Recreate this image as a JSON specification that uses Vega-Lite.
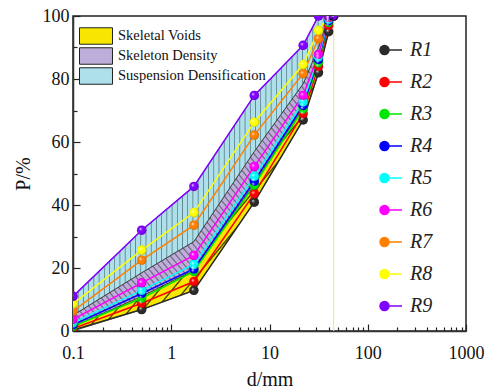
{
  "$schema": "https://vega.github.io/schema/vega-lite/v6.json",
  "width": 393,
  "height": 315,
  "autosize": {"type": "none"},
  "padding": {"left": 73, "top": 16, "right": 20, "bottom": 58},
  "background": "white",
  "config": {
    "font": "Liberation Serif",
    "view": {"stroke": "#222", "strokeWidth": 1.5}
  },
  "datasets": {
    "series": [
      {"s":"R1","d":0.1,"p":0.3},{"s":"R1","d":0.5,"p":6.8},{"s":"R1","d":1.7,"p":12.9},{"s":"R1","d":7,"p":40.9},{"s":"R1","d":22,"p":67},{"s":"R1","d":31.5,"p":82},{"s":"R1","d":40,"p":95},{"s":"R1","d":45,"p":100},
      {"s":"R2","d":0.1,"p":0.8},{"s":"R2","d":0.5,"p":8.8},{"s":"R2","d":1.7,"p":15.7},{"s":"R2","d":7,"p":43.6},{"s":"R2","d":22,"p":69},{"s":"R2","d":31.5,"p":84},{"s":"R2","d":40,"p":97},{"s":"R2","d":45,"p":100},
      {"s":"R3","d":0.1,"p":1.5},{"s":"R3","d":0.5,"p":10.4},{"s":"R3","d":1.7,"p":18.9},{"s":"R3","d":7,"p":46.3},{"s":"R3","d":22,"p":70.5},{"s":"R3","d":31.5,"p":85.2},{"s":"R3","d":40,"p":98},{"s":"R3","d":45,"p":100},
      {"s":"R4","d":0.1,"p":2},{"s":"R4","d":0.5,"p":11.9},{"s":"R4","d":1.7,"p":19.7},{"s":"R4","d":7,"p":47.6},{"s":"R4","d":22,"p":71.6},{"s":"R4","d":31.5,"p":86.2},{"s":"R4","d":40,"p":98.5},{"s":"R4","d":45,"p":100},
      {"s":"R5","d":0.1,"p":2.6},{"s":"R5","d":0.5,"p":12.9},{"s":"R5","d":1.7,"p":21.1},{"s":"R5","d":7,"p":49.1},{"s":"R5","d":22,"p":72.7},{"s":"R5","d":31.5,"p":87},{"s":"R5","d":40,"p":99},{"s":"R5","d":45,"p":100},
      {"s":"R6","d":0.1,"p":3.7},{"s":"R6","d":0.5,"p":15.3},{"s":"R6","d":1.7,"p":24},{"s":"R6","d":7,"p":52.2},{"s":"R6","d":22,"p":74.8},{"s":"R6","d":31.5,"p":87.8},{"s":"R6","d":40,"p":99.5},{"s":"R6","d":45,"p":100},
      {"s":"R7","d":0.1,"p":6.3},{"s":"R7","d":0.5,"p":22.5},{"s":"R7","d":1.7,"p":33.6},{"s":"R7","d":7,"p":62.2},{"s":"R7","d":22,"p":81.7},{"s":"R7","d":31.5,"p":92.8},{"s":"R7","d":40,"p":100},{"s":"R7","d":45,"p":100},
      {"s":"R8","d":0.1,"p":8.6},{"s":"R8","d":0.5,"p":25.7},{"s":"R8","d":1.7,"p":37.6},{"s":"R8","d":7,"p":66.3},{"s":"R8","d":22,"p":84.6},{"s":"R8","d":31.5,"p":95.4},{"s":"R8","d":40,"p":100},{"s":"R8","d":45,"p":100},
      {"s":"R9","d":0.1,"p":11},{"s":"R9","d":0.5,"p":32},{"s":"R9","d":1.7,"p":45.9},{"s":"R9","d":7,"p":74.8},{"s":"R9","d":22,"p":90.7},{"s":"R9","d":31.5,"p":100},{"s":"R9","d":40,"p":100},{"s":"R9","d":45,"p":100}
    ],
    "bands": [
      {"band":"Skeletal Voids","d":0.1,"lo":0,"hi":1.5},{"band":"Skeletal Voids","d":0.5,"lo":6.8,"hi":11},{"band":"Skeletal Voids","d":1.7,"lo":12.9,"hi":19.3},{"band":"Skeletal Voids","d":7,"lo":40.9,"hi":46.8},{"band":"Skeletal Voids","d":22,"lo":67,"hi":71},{"band":"Skeletal Voids","d":31.5,"lo":82,"hi":85.5},{"band":"Skeletal Voids","d":40,"lo":95,"hi":98},{"band":"Skeletal Voids","d":45,"lo":100,"hi":100},
      {"band":"Skeleton Density","d":0.1,"lo":1.5,"hi":5},{"band":"Skeleton Density","d":0.5,"lo":11,"hi":18.5},{"band":"Skeleton Density","d":1.7,"lo":19.3,"hi":28.4},{"band":"Skeleton Density","d":7,"lo":46.8,"hi":57},{"band":"Skeleton Density","d":22,"lo":71,"hi":78.5},{"band":"Skeleton Density","d":31.5,"lo":85.5,"hi":90},{"band":"Skeleton Density","d":40,"lo":98,"hi":100},{"band":"Skeleton Density","d":45,"lo":100,"hi":100},
      {"band":"Suspension Densification","d":0.1,"lo":5,"hi":11},{"band":"Suspension Densification","d":0.5,"lo":18.5,"hi":32},{"band":"Suspension Densification","d":1.7,"lo":28.4,"hi":45.9},{"band":"Suspension Densification","d":7,"lo":57,"hi":74.8},{"band":"Suspension Densification","d":22,"lo":78.5,"hi":90.7},{"band":"Suspension Densification","d":31.5,"lo":90,"hi":100},{"band":"Suspension Densification","d":40,"lo":100,"hi":100},{"band":"Suspension Densification","d":45,"lo":100,"hi":100}
    ]
  },
  "encoding": {
    "x": {
      "field": "d", "type": "quantitative",
      "scale": {"type": "log", "domain": [0.1, 1000], "nice": false},
      "axis": {
        "title": "d/mm", "titleFontSize": 20, "titleFontWeight": "normal", "titleColor": "#111", "titlePadding": 4,
        "labelFontSize": 18, "labelColor": "#111", "labelFlush": false, "labelOverlap": false, "labelPadding": 20,
        "values": [0.1,0.2,0.3,0.4,0.5,0.6,0.7,0.8,0.9,1,2,3,4,5,6,7,8,9,10,20,30,40,50,60,70,80,90,100,200,300,400,500,600,700,800,900,1000],
        "labelExpr": "indexof([0.1,1,10,100,1000], datum.value) >= 0 ? '' + datum.value : ''",
        "tickSize": {"condition": {"test": "indexof([0.1,1,10,100,1000], datum.value) >= 0", "value": -7}, "value": -4},
        "tickColor": "#222", "tickWidth": 1.2, "domainColor": "#333", "domainWidth": 1.5, "grid": false
      }
    },
    "y": {
      "field": "p", "type": "quantitative",
      "scale": {"domain": [0, 100], "nice": false},
      "axis": {
        "title": "P/%", "titleFontSize": 20, "titleFontWeight": "normal", "titleColor": "#111", "titlePadding": 9,
        "labelFontSize": 18, "labelColor": "#111", "labelPadding": 11, "labelFlush": false, "labelOverlap": false,
        "values": [0,10,20,30,40,50,60,70,80,90,100],
        "labelExpr": "datum.value % 20 === 0 ? datum.label : ''",
        "tickSize": {"condition": {"test": "datum.value % 20 === 0", "value": -7}, "value": -4},
        "tickColor": "#222", "tickWidth": 1.2, "domainColor": "#333", "domainWidth": 1.5, "grid": false
      }
    }
  },
  "layer": [
    {
      "data": {"name": "bands"},
      "mark": {"type": "area", "stroke": "#333", "strokeWidth": 0.8, "opacity": 1},
      "encoding": {
        "y": {"field": "lo", "type": "quantitative"},
        "y2": {"field": "hi"},
        "fill": {
          "field": "band", "type": "nominal",
          "scale": {"domain": ["Skeletal Voids", "Skeleton Density", "Suspension Densification"], "range": ["#f7e600", "#bcaed8", "#ade0ea"]},
          "legend": {
            "title": null, "orient": "none", "legendX": 14, "legendY": 11, "padding": 0,
            "symbolType": "M-2,-1H2V1H-2Z", "symbolSize": 272, "symbolStrokeColor": "#222", "symbolStrokeWidth": 1, "symbolOpacity": 1,
            "labelFontSize": 14.5, "labelColor": "#111", "labelOffset": 13, "rowPadding": -3.6, "labelLimit": 300
          }
        }
      }
    },
    {
      "data": {"name": "bands"},
      "transform": [{"filter": "datum.band === 'Suspension Densification'"}],
      "mark": {"type": "area", "strokeWidth": 0,
        "fill": {"gradient": "linear", "x1": 0, "y1": 0, "x2": 1, "y2": 0, "stops": [
          {"offset":0.017,"color":"rgba(0,0,0,0)"},{"offset":0.02,"color":"rgba(45,75,85,0.6)"},{"offset":0.023,"color":"rgba(0,0,0,0)"},
          {"offset":0.037,"color":"rgba(0,0,0,0)"},{"offset":0.04,"color":"rgba(45,75,85,0.6)"},{"offset":0.043,"color":"rgba(0,0,0,0)"},
          {"offset":0.057,"color":"rgba(0,0,0,0)"},{"offset":0.06,"color":"rgba(45,75,85,0.6)"},{"offset":0.063,"color":"rgba(0,0,0,0)"},
          {"offset":0.077,"color":"rgba(0,0,0,0)"},{"offset":0.08,"color":"rgba(45,75,85,0.6)"},{"offset":0.083,"color":"rgba(0,0,0,0)"},
          {"offset":0.097,"color":"rgba(0,0,0,0)"},{"offset":0.1,"color":"rgba(45,75,85,0.6)"},{"offset":0.103,"color":"rgba(0,0,0,0)"},
          {"offset":0.117,"color":"rgba(0,0,0,0)"},{"offset":0.12,"color":"rgba(45,75,85,0.6)"},{"offset":0.123,"color":"rgba(0,0,0,0)"},
          {"offset":0.137,"color":"rgba(0,0,0,0)"},{"offset":0.14,"color":"rgba(45,75,85,0.6)"},{"offset":0.143,"color":"rgba(0,0,0,0)"},
          {"offset":0.157,"color":"rgba(0,0,0,0)"},{"offset":0.16,"color":"rgba(45,75,85,0.6)"},{"offset":0.163,"color":"rgba(0,0,0,0)"},
          {"offset":0.177,"color":"rgba(0,0,0,0)"},{"offset":0.18,"color":"rgba(45,75,85,0.6)"},{"offset":0.183,"color":"rgba(0,0,0,0)"},
          {"offset":0.197,"color":"rgba(0,0,0,0)"},{"offset":0.2,"color":"rgba(45,75,85,0.6)"},{"offset":0.203,"color":"rgba(0,0,0,0)"},
          {"offset":0.217,"color":"rgba(0,0,0,0)"},{"offset":0.22,"color":"rgba(45,75,85,0.6)"},{"offset":0.223,"color":"rgba(0,0,0,0)"},
          {"offset":0.237,"color":"rgba(0,0,0,0)"},{"offset":0.24,"color":"rgba(45,75,85,0.6)"},{"offset":0.243,"color":"rgba(0,0,0,0)"},
          {"offset":0.257,"color":"rgba(0,0,0,0)"},{"offset":0.26,"color":"rgba(45,75,85,0.6)"},{"offset":0.263,"color":"rgba(0,0,0,0)"},
          {"offset":0.277,"color":"rgba(0,0,0,0)"},{"offset":0.28,"color":"rgba(45,75,85,0.6)"},{"offset":0.283,"color":"rgba(0,0,0,0)"},
          {"offset":0.297,"color":"rgba(0,0,0,0)"},{"offset":0.3,"color":"rgba(45,75,85,0.6)"},{"offset":0.303,"color":"rgba(0,0,0,0)"},
          {"offset":0.317,"color":"rgba(0,0,0,0)"},{"offset":0.32,"color":"rgba(45,75,85,0.6)"},{"offset":0.323,"color":"rgba(0,0,0,0)"},
          {"offset":0.337,"color":"rgba(0,0,0,0)"},{"offset":0.34,"color":"rgba(45,75,85,0.6)"},{"offset":0.343,"color":"rgba(0,0,0,0)"},
          {"offset":0.357,"color":"rgba(0,0,0,0)"},{"offset":0.36,"color":"rgba(45,75,85,0.6)"},{"offset":0.363,"color":"rgba(0,0,0,0)"},
          {"offset":0.377,"color":"rgba(0,0,0,0)"},{"offset":0.38,"color":"rgba(45,75,85,0.6)"},{"offset":0.383,"color":"rgba(0,0,0,0)"},
          {"offset":0.397,"color":"rgba(0,0,0,0)"},{"offset":0.4,"color":"rgba(45,75,85,0.6)"},{"offset":0.403,"color":"rgba(0,0,0,0)"},
          {"offset":0.417,"color":"rgba(0,0,0,0)"},{"offset":0.42,"color":"rgba(45,75,85,0.6)"},{"offset":0.423,"color":"rgba(0,0,0,0)"},
          {"offset":0.437,"color":"rgba(0,0,0,0)"},{"offset":0.44,"color":"rgba(45,75,85,0.6)"},{"offset":0.443,"color":"rgba(0,0,0,0)"},
          {"offset":0.457,"color":"rgba(0,0,0,0)"},{"offset":0.46,"color":"rgba(45,75,85,0.6)"},{"offset":0.463,"color":"rgba(0,0,0,0)"},
          {"offset":0.477,"color":"rgba(0,0,0,0)"},{"offset":0.48,"color":"rgba(45,75,85,0.6)"},{"offset":0.483,"color":"rgba(0,0,0,0)"},
          {"offset":0.497,"color":"rgba(0,0,0,0)"},{"offset":0.5,"color":"rgba(45,75,85,0.6)"},{"offset":0.503,"color":"rgba(0,0,0,0)"},
          {"offset":0.517,"color":"rgba(0,0,0,0)"},{"offset":0.52,"color":"rgba(45,75,85,0.6)"},{"offset":0.523,"color":"rgba(0,0,0,0)"},
          {"offset":0.537,"color":"rgba(0,0,0,0)"},{"offset":0.54,"color":"rgba(45,75,85,0.6)"},{"offset":0.543,"color":"rgba(0,0,0,0)"},
          {"offset":0.557,"color":"rgba(0,0,0,0)"},{"offset":0.56,"color":"rgba(45,75,85,0.6)"},{"offset":0.563,"color":"rgba(0,0,0,0)"},
          {"offset":0.577,"color":"rgba(0,0,0,0)"},{"offset":0.58,"color":"rgba(45,75,85,0.6)"},{"offset":0.583,"color":"rgba(0,0,0,0)"},
          {"offset":0.597,"color":"rgba(0,0,0,0)"},{"offset":0.6,"color":"rgba(45,75,85,0.6)"},{"offset":0.603,"color":"rgba(0,0,0,0)"},
          {"offset":0.617,"color":"rgba(0,0,0,0)"},{"offset":0.62,"color":"rgba(45,75,85,0.6)"},{"offset":0.623,"color":"rgba(0,0,0,0)"},
          {"offset":0.637,"color":"rgba(0,0,0,0)"},{"offset":0.64,"color":"rgba(45,75,85,0.6)"},{"offset":0.643,"color":"rgba(0,0,0,0)"},
          {"offset":0.657,"color":"rgba(0,0,0,0)"},{"offset":0.66,"color":"rgba(45,75,85,0.6)"},{"offset":0.663,"color":"rgba(0,0,0,0)"},
          {"offset":0.677,"color":"rgba(0,0,0,0)"},{"offset":0.68,"color":"rgba(45,75,85,0.6)"},{"offset":0.683,"color":"rgba(0,0,0,0)"},
          {"offset":0.697,"color":"rgba(0,0,0,0)"},{"offset":0.7,"color":"rgba(45,75,85,0.6)"},{"offset":0.703,"color":"rgba(0,0,0,0)"},
          {"offset":0.717,"color":"rgba(0,0,0,0)"},{"offset":0.72,"color":"rgba(45,75,85,0.6)"},{"offset":0.723,"color":"rgba(0,0,0,0)"},
          {"offset":0.737,"color":"rgba(0,0,0,0)"},{"offset":0.74,"color":"rgba(45,75,85,0.6)"},{"offset":0.743,"color":"rgba(0,0,0,0)"},
          {"offset":0.757,"color":"rgba(0,0,0,0)"},{"offset":0.76,"color":"rgba(45,75,85,0.6)"},{"offset":0.763,"color":"rgba(0,0,0,0)"},
          {"offset":0.777,"color":"rgba(0,0,0,0)"},{"offset":0.78,"color":"rgba(45,75,85,0.6)"},{"offset":0.783,"color":"rgba(0,0,0,0)"},
          {"offset":0.797,"color":"rgba(0,0,0,0)"},{"offset":0.8,"color":"rgba(45,75,85,0.6)"},{"offset":0.803,"color":"rgba(0,0,0,0)"},
          {"offset":0.817,"color":"rgba(0,0,0,0)"},{"offset":0.82,"color":"rgba(45,75,85,0.6)"},{"offset":0.823,"color":"rgba(0,0,0,0)"},
          {"offset":0.837,"color":"rgba(0,0,0,0)"},{"offset":0.84,"color":"rgba(45,75,85,0.6)"},{"offset":0.843,"color":"rgba(0,0,0,0)"},
          {"offset":0.857,"color":"rgba(0,0,0,0)"},{"offset":0.86,"color":"rgba(45,75,85,0.6)"},{"offset":0.863,"color":"rgba(0,0,0,0)"},
          {"offset":0.877,"color":"rgba(0,0,0,0)"},{"offset":0.88,"color":"rgba(45,75,85,0.6)"},{"offset":0.883,"color":"rgba(0,0,0,0)"},
          {"offset":0.897,"color":"rgba(0,0,0,0)"},{"offset":0.9,"color":"rgba(45,75,85,0.6)"},{"offset":0.903,"color":"rgba(0,0,0,0)"},
          {"offset":0.917,"color":"rgba(0,0,0,0)"},{"offset":0.92,"color":"rgba(45,75,85,0.6)"},{"offset":0.923,"color":"rgba(0,0,0,0)"},
          {"offset":0.937,"color":"rgba(0,0,0,0)"},{"offset":0.94,"color":"rgba(45,75,85,0.6)"},{"offset":0.943,"color":"rgba(0,0,0,0)"},
          {"offset":0.957,"color":"rgba(0,0,0,0)"},{"offset":0.96,"color":"rgba(45,75,85,0.6)"},{"offset":0.963,"color":"rgba(0,0,0,0)"},
          {"offset":0.977,"color":"rgba(0,0,0,0)"},{"offset":0.98,"color":"rgba(45,75,85,0.6)"},{"offset":0.983,"color":"rgba(0,0,0,0)"}
        ]}
      },
      "encoding": {
        "y": {"field": "lo", "type": "quantitative"},
        "y2": {"field": "hi"}
      }
    },
    {
      "data": {"name": "bands"},
      "transform": [{"filter": "datum.band === 'Skeleton Density'"}],
      "mark": {"type": "area", "strokeWidth": 0,
        "fill": {"gradient": "linear", "x1": 0, "y1": 1, "x2": 1, "y2": 0, "stops": [
          {"offset":0.01,"color":"rgba(0,0,0,0)"},{"offset":0.0125,"color":"rgba(60,50,80,0.6)"},{"offset":0.015,"color":"rgba(0,0,0,0)"},
          {"offset":0.0225,"color":"rgba(0,0,0,0)"},{"offset":0.025,"color":"rgba(60,50,80,0.6)"},{"offset":0.0275,"color":"rgba(0,0,0,0)"},
          {"offset":0.035,"color":"rgba(0,0,0,0)"},{"offset":0.0375,"color":"rgba(60,50,80,0.6)"},{"offset":0.04,"color":"rgba(0,0,0,0)"},
          {"offset":0.0475,"color":"rgba(0,0,0,0)"},{"offset":0.05,"color":"rgba(60,50,80,0.6)"},{"offset":0.0525,"color":"rgba(0,0,0,0)"},
          {"offset":0.06,"color":"rgba(0,0,0,0)"},{"offset":0.0625,"color":"rgba(60,50,80,0.6)"},{"offset":0.065,"color":"rgba(0,0,0,0)"},
          {"offset":0.0725,"color":"rgba(0,0,0,0)"},{"offset":0.075,"color":"rgba(60,50,80,0.6)"},{"offset":0.0775,"color":"rgba(0,0,0,0)"},
          {"offset":0.085,"color":"rgba(0,0,0,0)"},{"offset":0.0875,"color":"rgba(60,50,80,0.6)"},{"offset":0.09,"color":"rgba(0,0,0,0)"},
          {"offset":0.0975,"color":"rgba(0,0,0,0)"},{"offset":0.1,"color":"rgba(60,50,80,0.6)"},{"offset":0.1025,"color":"rgba(0,0,0,0)"},
          {"offset":0.11,"color":"rgba(0,0,0,0)"},{"offset":0.1125,"color":"rgba(60,50,80,0.6)"},{"offset":0.115,"color":"rgba(0,0,0,0)"},
          {"offset":0.1225,"color":"rgba(0,0,0,0)"},{"offset":0.125,"color":"rgba(60,50,80,0.6)"},{"offset":0.1275,"color":"rgba(0,0,0,0)"},
          {"offset":0.135,"color":"rgba(0,0,0,0)"},{"offset":0.1375,"color":"rgba(60,50,80,0.6)"},{"offset":0.14,"color":"rgba(0,0,0,0)"},
          {"offset":0.1475,"color":"rgba(0,0,0,0)"},{"offset":0.15,"color":"rgba(60,50,80,0.6)"},{"offset":0.1525,"color":"rgba(0,0,0,0)"},
          {"offset":0.16,"color":"rgba(0,0,0,0)"},{"offset":0.1625,"color":"rgba(60,50,80,0.6)"},{"offset":0.165,"color":"rgba(0,0,0,0)"},
          {"offset":0.1725,"color":"rgba(0,0,0,0)"},{"offset":0.175,"color":"rgba(60,50,80,0.6)"},{"offset":0.1775,"color":"rgba(0,0,0,0)"},
          {"offset":0.185,"color":"rgba(0,0,0,0)"},{"offset":0.1875,"color":"rgba(60,50,80,0.6)"},{"offset":0.19,"color":"rgba(0,0,0,0)"},
          {"offset":0.1975,"color":"rgba(0,0,0,0)"},{"offset":0.2,"color":"rgba(60,50,80,0.6)"},{"offset":0.2025,"color":"rgba(0,0,0,0)"},
          {"offset":0.21,"color":"rgba(0,0,0,0)"},{"offset":0.2125,"color":"rgba(60,50,80,0.6)"},{"offset":0.215,"color":"rgba(0,0,0,0)"},
          {"offset":0.2225,"color":"rgba(0,0,0,0)"},{"offset":0.225,"color":"rgba(60,50,80,0.6)"},{"offset":0.2275,"color":"rgba(0,0,0,0)"},
          {"offset":0.235,"color":"rgba(0,0,0,0)"},{"offset":0.2375,"color":"rgba(60,50,80,0.6)"},{"offset":0.24,"color":"rgba(0,0,0,0)"},
          {"offset":0.2475,"color":"rgba(0,0,0,0)"},{"offset":0.25,"color":"rgba(60,50,80,0.6)"},{"offset":0.2525,"color":"rgba(0,0,0,0)"},
          {"offset":0.26,"color":"rgba(0,0,0,0)"},{"offset":0.2625,"color":"rgba(60,50,80,0.6)"},{"offset":0.265,"color":"rgba(0,0,0,0)"},
          {"offset":0.2725,"color":"rgba(0,0,0,0)"},{"offset":0.275,"color":"rgba(60,50,80,0.6)"},{"offset":0.2775,"color":"rgba(0,0,0,0)"},
          {"offset":0.285,"color":"rgba(0,0,0,0)"},{"offset":0.2875,"color":"rgba(60,50,80,0.6)"},{"offset":0.29,"color":"rgba(0,0,0,0)"},
          {"offset":0.2975,"color":"rgba(0,0,0,0)"},{"offset":0.3,"color":"rgba(60,50,80,0.6)"},{"offset":0.3025,"color":"rgba(0,0,0,0)"},
          {"offset":0.31,"color":"rgba(0,0,0,0)"},{"offset":0.3125,"color":"rgba(60,50,80,0.6)"},{"offset":0.315,"color":"rgba(0,0,0,0)"},
          {"offset":0.3225,"color":"rgba(0,0,0,0)"},{"offset":0.325,"color":"rgba(60,50,80,0.6)"},{"offset":0.3275,"color":"rgba(0,0,0,0)"},
          {"offset":0.335,"color":"rgba(0,0,0,0)"},{"offset":0.3375,"color":"rgba(60,50,80,0.6)"},{"offset":0.34,"color":"rgba(0,0,0,0)"},
          {"offset":0.3475,"color":"rgba(0,0,0,0)"},{"offset":0.35,"color":"rgba(60,50,80,0.6)"},{"offset":0.3525,"color":"rgba(0,0,0,0)"},
          {"offset":0.36,"color":"rgba(0,0,0,0)"},{"offset":0.3625,"color":"rgba(60,50,80,0.6)"},{"offset":0.365,"color":"rgba(0,0,0,0)"},
          {"offset":0.3725,"color":"rgba(0,0,0,0)"},{"offset":0.375,"color":"rgba(60,50,80,0.6)"},{"offset":0.3775,"color":"rgba(0,0,0,0)"},
          {"offset":0.385,"color":"rgba(0,0,0,0)"},{"offset":0.3875,"color":"rgba(60,50,80,0.6)"},{"offset":0.39,"color":"rgba(0,0,0,0)"},
          {"offset":0.3975,"color":"rgba(0,0,0,0)"},{"offset":0.4,"color":"rgba(60,50,80,0.6)"},{"offset":0.4025,"color":"rgba(0,0,0,0)"},
          {"offset":0.41,"color":"rgba(0,0,0,0)"},{"offset":0.4125,"color":"rgba(60,50,80,0.6)"},{"offset":0.415,"color":"rgba(0,0,0,0)"},
          {"offset":0.4225,"color":"rgba(0,0,0,0)"},{"offset":0.425,"color":"rgba(60,50,80,0.6)"},{"offset":0.4275,"color":"rgba(0,0,0,0)"},
          {"offset":0.435,"color":"rgba(0,0,0,0)"},{"offset":0.4375,"color":"rgba(60,50,80,0.6)"},{"offset":0.44,"color":"rgba(0,0,0,0)"},
          {"offset":0.4475,"color":"rgba(0,0,0,0)"},{"offset":0.45,"color":"rgba(60,50,80,0.6)"},{"offset":0.4525,"color":"rgba(0,0,0,0)"},
          {"offset":0.46,"color":"rgba(0,0,0,0)"},{"offset":0.4625,"color":"rgba(60,50,80,0.6)"},{"offset":0.465,"color":"rgba(0,0,0,0)"},
          {"offset":0.4725,"color":"rgba(0,0,0,0)"},{"offset":0.475,"color":"rgba(60,50,80,0.6)"},{"offset":0.4775,"color":"rgba(0,0,0,0)"},
          {"offset":0.485,"color":"rgba(0,0,0,0)"},{"offset":0.4875,"color":"rgba(60,50,80,0.6)"},{"offset":0.49,"color":"rgba(0,0,0,0)"},
          {"offset":0.4975,"color":"rgba(0,0,0,0)"},{"offset":0.5,"color":"rgba(60,50,80,0.6)"},{"offset":0.5025,"color":"rgba(0,0,0,0)"},
          {"offset":0.51,"color":"rgba(0,0,0,0)"},{"offset":0.5125,"color":"rgba(60,50,80,0.6)"},{"offset":0.515,"color":"rgba(0,0,0,0)"},
          {"offset":0.5225,"color":"rgba(0,0,0,0)"},{"offset":0.525,"color":"rgba(60,50,80,0.6)"},{"offset":0.5275,"color":"rgba(0,0,0,0)"},
          {"offset":0.535,"color":"rgba(0,0,0,0)"},{"offset":0.5375,"color":"rgba(60,50,80,0.6)"},{"offset":0.54,"color":"rgba(0,0,0,0)"},
          {"offset":0.5475,"color":"rgba(0,0,0,0)"},{"offset":0.55,"color":"rgba(60,50,80,0.6)"},{"offset":0.5525,"color":"rgba(0,0,0,0)"},
          {"offset":0.56,"color":"rgba(0,0,0,0)"},{"offset":0.5625,"color":"rgba(60,50,80,0.6)"},{"offset":0.565,"color":"rgba(0,0,0,0)"},
          {"offset":0.5725,"color":"rgba(0,0,0,0)"},{"offset":0.575,"color":"rgba(60,50,80,0.6)"},{"offset":0.5775,"color":"rgba(0,0,0,0)"},
          {"offset":0.585,"color":"rgba(0,0,0,0)"},{"offset":0.5875,"color":"rgba(60,50,80,0.6)"},{"offset":0.59,"color":"rgba(0,0,0,0)"},
          {"offset":0.5975,"color":"rgba(0,0,0,0)"},{"offset":0.6,"color":"rgba(60,50,80,0.6)"},{"offset":0.6025,"color":"rgba(0,0,0,0)"},
          {"offset":0.61,"color":"rgba(0,0,0,0)"},{"offset":0.6125,"color":"rgba(60,50,80,0.6)"},{"offset":0.615,"color":"rgba(0,0,0,0)"},
          {"offset":0.6225,"color":"rgba(0,0,0,0)"},{"offset":0.625,"color":"rgba(60,50,80,0.6)"},{"offset":0.6275,"color":"rgba(0,0,0,0)"},
          {"offset":0.635,"color":"rgba(0,0,0,0)"},{"offset":0.6375,"color":"rgba(60,50,80,0.6)"},{"offset":0.64,"color":"rgba(0,0,0,0)"},
          {"offset":0.6475,"color":"rgba(0,0,0,0)"},{"offset":0.65,"color":"rgba(60,50,80,0.6)"},{"offset":0.6525,"color":"rgba(0,0,0,0)"},
          {"offset":0.66,"color":"rgba(0,0,0,0)"},{"offset":0.6625,"color":"rgba(60,50,80,0.6)"},{"offset":0.665,"color":"rgba(0,0,0,0)"},
          {"offset":0.6725,"color":"rgba(0,0,0,0)"},{"offset":0.675,"color":"rgba(60,50,80,0.6)"},{"offset":0.6775,"color":"rgba(0,0,0,0)"},
          {"offset":0.685,"color":"rgba(0,0,0,0)"},{"offset":0.6875,"color":"rgba(60,50,80,0.6)"},{"offset":0.69,"color":"rgba(0,0,0,0)"},
          {"offset":0.6975,"color":"rgba(0,0,0,0)"},{"offset":0.7,"color":"rgba(60,50,80,0.6)"},{"offset":0.7025,"color":"rgba(0,0,0,0)"},
          {"offset":0.71,"color":"rgba(0,0,0,0)"},{"offset":0.7125,"color":"rgba(60,50,80,0.6)"},{"offset":0.715,"color":"rgba(0,0,0,0)"},
          {"offset":0.7225,"color":"rgba(0,0,0,0)"},{"offset":0.725,"color":"rgba(60,50,80,0.6)"},{"offset":0.7275,"color":"rgba(0,0,0,0)"},
          {"offset":0.735,"color":"rgba(0,0,0,0)"},{"offset":0.7375,"color":"rgba(60,50,80,0.6)"},{"offset":0.74,"color":"rgba(0,0,0,0)"},
          {"offset":0.7475,"color":"rgba(0,0,0,0)"},{"offset":0.75,"color":"rgba(60,50,80,0.6)"},{"offset":0.7525,"color":"rgba(0,0,0,0)"},
          {"offset":0.76,"color":"rgba(0,0,0,0)"},{"offset":0.7625,"color":"rgba(60,50,80,0.6)"},{"offset":0.765,"color":"rgba(0,0,0,0)"},
          {"offset":0.7725,"color":"rgba(0,0,0,0)"},{"offset":0.775,"color":"rgba(60,50,80,0.6)"},{"offset":0.7775,"color":"rgba(0,0,0,0)"},
          {"offset":0.785,"color":"rgba(0,0,0,0)"},{"offset":0.7875,"color":"rgba(60,50,80,0.6)"},{"offset":0.79,"color":"rgba(0,0,0,0)"},
          {"offset":0.7975,"color":"rgba(0,0,0,0)"},{"offset":0.8,"color":"rgba(60,50,80,0.6)"},{"offset":0.8025,"color":"rgba(0,0,0,0)"},
          {"offset":0.81,"color":"rgba(0,0,0,0)"},{"offset":0.8125,"color":"rgba(60,50,80,0.6)"},{"offset":0.815,"color":"rgba(0,0,0,0)"},
          {"offset":0.8225,"color":"rgba(0,0,0,0)"},{"offset":0.825,"color":"rgba(60,50,80,0.6)"},{"offset":0.8275,"color":"rgba(0,0,0,0)"},
          {"offset":0.835,"color":"rgba(0,0,0,0)"},{"offset":0.8375,"color":"rgba(60,50,80,0.6)"},{"offset":0.84,"color":"rgba(0,0,0,0)"},
          {"offset":0.8475,"color":"rgba(0,0,0,0)"},{"offset":0.85,"color":"rgba(60,50,80,0.6)"},{"offset":0.8525,"color":"rgba(0,0,0,0)"},
          {"offset":0.86,"color":"rgba(0,0,0,0)"},{"offset":0.8625,"color":"rgba(60,50,80,0.6)"},{"offset":0.865,"color":"rgba(0,0,0,0)"},
          {"offset":0.8725,"color":"rgba(0,0,0,0)"},{"offset":0.875,"color":"rgba(60,50,80,0.6)"},{"offset":0.8775,"color":"rgba(0,0,0,0)"},
          {"offset":0.885,"color":"rgba(0,0,0,0)"},{"offset":0.8875,"color":"rgba(60,50,80,0.6)"},{"offset":0.89,"color":"rgba(0,0,0,0)"},
          {"offset":0.8975,"color":"rgba(0,0,0,0)"},{"offset":0.9,"color":"rgba(60,50,80,0.6)"},{"offset":0.9025,"color":"rgba(0,0,0,0)"},
          {"offset":0.91,"color":"rgba(0,0,0,0)"},{"offset":0.9125,"color":"rgba(60,50,80,0.6)"},{"offset":0.915,"color":"rgba(0,0,0,0)"},
          {"offset":0.9225,"color":"rgba(0,0,0,0)"},{"offset":0.925,"color":"rgba(60,50,80,0.6)"},{"offset":0.9275,"color":"rgba(0,0,0,0)"},
          {"offset":0.935,"color":"rgba(0,0,0,0)"},{"offset":0.9375,"color":"rgba(60,50,80,0.6)"},{"offset":0.94,"color":"rgba(0,0,0,0)"},
          {"offset":0.9475,"color":"rgba(0,0,0,0)"},{"offset":0.95,"color":"rgba(60,50,80,0.6)"},{"offset":0.9525,"color":"rgba(0,0,0,0)"},
          {"offset":0.96,"color":"rgba(0,0,0,0)"},{"offset":0.9625,"color":"rgba(60,50,80,0.6)"},{"offset":0.965,"color":"rgba(0,0,0,0)"},
          {"offset":0.9725,"color":"rgba(0,0,0,0)"},{"offset":0.975,"color":"rgba(60,50,80,0.6)"},{"offset":0.9775,"color":"rgba(0,0,0,0)"},
          {"offset":0.985,"color":"rgba(0,0,0,0)"},{"offset":0.9875,"color":"rgba(60,50,80,0.6)"},{"offset":0.99,"color":"rgba(0,0,0,0)"}
        ]}
      },
      "encoding": {
        "y": {"field": "lo", "type": "quantitative"},
        "y2": {"field": "hi"}
      }
    },
    {
      "data": {"name": "bands"},
      "transform": [{"filter": "datum.band === 'Skeletal Voids'"}],
      "mark": {"type": "area", "strokeWidth": 0,
        "fill": {"gradient": "linear", "x1": 0, "y1": 0, "x2": 1, "y2": 1, "stops": [
          {"offset":0.022,"color":"rgba(0,0,0,0)"},{"offset":0.025,"color":"rgba(20,20,0,0.85)"},{"offset":0.028,"color":"rgba(0,0,0,0)"},
          {"offset":0.047,"color":"rgba(0,0,0,0)"},{"offset":0.05,"color":"rgba(20,20,0,0.85)"},{"offset":0.053,"color":"rgba(0,0,0,0)"},
          {"offset":0.072,"color":"rgba(0,0,0,0)"},{"offset":0.075,"color":"rgba(20,20,0,0.85)"},{"offset":0.078,"color":"rgba(0,0,0,0)"},
          {"offset":0.097,"color":"rgba(0,0,0,0)"},{"offset":0.1,"color":"rgba(20,20,0,0.85)"},{"offset":0.103,"color":"rgba(0,0,0,0)"},
          {"offset":0.122,"color":"rgba(0,0,0,0)"},{"offset":0.125,"color":"rgba(20,20,0,0.85)"},{"offset":0.128,"color":"rgba(0,0,0,0)"},
          {"offset":0.147,"color":"rgba(0,0,0,0)"},{"offset":0.15,"color":"rgba(20,20,0,0.85)"},{"offset":0.153,"color":"rgba(0,0,0,0)"},
          {"offset":0.172,"color":"rgba(0,0,0,0)"},{"offset":0.175,"color":"rgba(20,20,0,0.85)"},{"offset":0.178,"color":"rgba(0,0,0,0)"},
          {"offset":0.197,"color":"rgba(0,0,0,0)"},{"offset":0.2,"color":"rgba(20,20,0,0.85)"},{"offset":0.203,"color":"rgba(0,0,0,0)"},
          {"offset":0.222,"color":"rgba(0,0,0,0)"},{"offset":0.225,"color":"rgba(20,20,0,0.85)"},{"offset":0.228,"color":"rgba(0,0,0,0)"},
          {"offset":0.247,"color":"rgba(0,0,0,0)"},{"offset":0.25,"color":"rgba(20,20,0,0.85)"},{"offset":0.253,"color":"rgba(0,0,0,0)"},
          {"offset":0.272,"color":"rgba(0,0,0,0)"},{"offset":0.275,"color":"rgba(20,20,0,0.85)"},{"offset":0.278,"color":"rgba(0,0,0,0)"},
          {"offset":0.297,"color":"rgba(0,0,0,0)"},{"offset":0.3,"color":"rgba(20,20,0,0.85)"},{"offset":0.303,"color":"rgba(0,0,0,0)"},
          {"offset":0.322,"color":"rgba(0,0,0,0)"},{"offset":0.325,"color":"rgba(20,20,0,0.85)"},{"offset":0.328,"color":"rgba(0,0,0,0)"},
          {"offset":0.347,"color":"rgba(0,0,0,0)"},{"offset":0.35,"color":"rgba(20,20,0,0.85)"},{"offset":0.353,"color":"rgba(0,0,0,0)"},
          {"offset":0.372,"color":"rgba(0,0,0,0)"},{"offset":0.375,"color":"rgba(20,20,0,0.85)"},{"offset":0.378,"color":"rgba(0,0,0,0)"},
          {"offset":0.397,"color":"rgba(0,0,0,0)"},{"offset":0.4,"color":"rgba(20,20,0,0.85)"},{"offset":0.403,"color":"rgba(0,0,0,0)"},
          {"offset":0.422,"color":"rgba(0,0,0,0)"},{"offset":0.425,"color":"rgba(20,20,0,0.85)"},{"offset":0.428,"color":"rgba(0,0,0,0)"},
          {"offset":0.447,"color":"rgba(0,0,0,0)"},{"offset":0.45,"color":"rgba(20,20,0,0.85)"},{"offset":0.453,"color":"rgba(0,0,0,0)"},
          {"offset":0.472,"color":"rgba(0,0,0,0)"},{"offset":0.475,"color":"rgba(20,20,0,0.85)"},{"offset":0.478,"color":"rgba(0,0,0,0)"},
          {"offset":0.497,"color":"rgba(0,0,0,0)"},{"offset":0.5,"color":"rgba(20,20,0,0.85)"},{"offset":0.503,"color":"rgba(0,0,0,0)"},
          {"offset":0.522,"color":"rgba(0,0,0,0)"},{"offset":0.525,"color":"rgba(20,20,0,0.85)"},{"offset":0.528,"color":"rgba(0,0,0,0)"},
          {"offset":0.547,"color":"rgba(0,0,0,0)"},{"offset":0.55,"color":"rgba(20,20,0,0.85)"},{"offset":0.553,"color":"rgba(0,0,0,0)"},
          {"offset":0.572,"color":"rgba(0,0,0,0)"},{"offset":0.575,"color":"rgba(20,20,0,0.85)"},{"offset":0.578,"color":"rgba(0,0,0,0)"},
          {"offset":0.597,"color":"rgba(0,0,0,0)"},{"offset":0.6,"color":"rgba(20,20,0,0.85)"},{"offset":0.603,"color":"rgba(0,0,0,0)"},
          {"offset":0.622,"color":"rgba(0,0,0,0)"},{"offset":0.625,"color":"rgba(20,20,0,0.85)"},{"offset":0.628,"color":"rgba(0,0,0,0)"},
          {"offset":0.647,"color":"rgba(0,0,0,0)"},{"offset":0.65,"color":"rgba(20,20,0,0.85)"},{"offset":0.653,"color":"rgba(0,0,0,0)"},
          {"offset":0.672,"color":"rgba(0,0,0,0)"},{"offset":0.675,"color":"rgba(20,20,0,0.85)"},{"offset":0.678,"color":"rgba(0,0,0,0)"},
          {"offset":0.697,"color":"rgba(0,0,0,0)"},{"offset":0.7,"color":"rgba(20,20,0,0.85)"},{"offset":0.703,"color":"rgba(0,0,0,0)"},
          {"offset":0.722,"color":"rgba(0,0,0,0)"},{"offset":0.725,"color":"rgba(20,20,0,0.85)"},{"offset":0.728,"color":"rgba(0,0,0,0)"},
          {"offset":0.747,"color":"rgba(0,0,0,0)"},{"offset":0.75,"color":"rgba(20,20,0,0.85)"},{"offset":0.753,"color":"rgba(0,0,0,0)"},
          {"offset":0.772,"color":"rgba(0,0,0,0)"},{"offset":0.775,"color":"rgba(20,20,0,0.85)"},{"offset":0.778,"color":"rgba(0,0,0,0)"},
          {"offset":0.797,"color":"rgba(0,0,0,0)"},{"offset":0.8,"color":"rgba(20,20,0,0.85)"},{"offset":0.803,"color":"rgba(0,0,0,0)"},
          {"offset":0.822,"color":"rgba(0,0,0,0)"},{"offset":0.825,"color":"rgba(20,20,0,0.85)"},{"offset":0.828,"color":"rgba(0,0,0,0)"},
          {"offset":0.847,"color":"rgba(0,0,0,0)"},{"offset":0.85,"color":"rgba(20,20,0,0.85)"},{"offset":0.853,"color":"rgba(0,0,0,0)"},
          {"offset":0.872,"color":"rgba(0,0,0,0)"},{"offset":0.875,"color":"rgba(20,20,0,0.85)"},{"offset":0.878,"color":"rgba(0,0,0,0)"},
          {"offset":0.897,"color":"rgba(0,0,0,0)"},{"offset":0.9,"color":"rgba(20,20,0,0.85)"},{"offset":0.903,"color":"rgba(0,0,0,0)"},
          {"offset":0.922,"color":"rgba(0,0,0,0)"},{"offset":0.925,"color":"rgba(20,20,0,0.85)"},{"offset":0.928,"color":"rgba(0,0,0,0)"},
          {"offset":0.947,"color":"rgba(0,0,0,0)"},{"offset":0.95,"color":"rgba(20,20,0,0.85)"},{"offset":0.953,"color":"rgba(0,0,0,0)"},
          {"offset":0.972,"color":"rgba(0,0,0,0)"},{"offset":0.975,"color":"rgba(20,20,0,0.85)"},{"offset":0.978,"color":"rgba(0,0,0,0)"}
        ]}
      },
      "encoding": {
        "y": {"field": "lo", "type": "quantitative"},
        "y2": {"field": "hi"}
      }
    },
    {
      "data": {"values": [{"d": 45}]},
      "mark": {"type": "rule", "color": "#efe68a", "strokeWidth": 1},
      "encoding": {"y": null}
    },
    {
      "data": {"name": "series"},
      "mark": {"type": "line", "strokeWidth": 1.5, "clip": true},
      "encoding": {
        "color": {
          "field": "s", "type": "nominal",
          "scale": {"domain": ["R1","R2","R3","R4","R5","R6","R7","R8","R9"], "range": ["#2b2b2b","#ff0000","#00e600","#0000ff","#00ffff","#ff00ff","#ff8000","#ffff00","#8000ff"]},
          "legend": {
            "title": null, "orient": "none", "legendX": 308, "legendY": 23, "padding": 0,
            "symbolType": "M-1.2,0A0.45,0.45 0 1,0 -0.3,0A0.45,0.45 0 1,0 -1.2,0M-0.3,0L1,0",
            "symbolSize": 400, "symbolStrokeWidth": 1.5,
            "labelFontSize": 20, "labelFontStyle": "italic", "labelColor": "#222", "labelOffset": 7, "rowPadding": 11,
            "encode": {"symbols": {"update": {"stroke": {"scale": "color", "field": "value"}, "fill": {"scale": "color", "field": "value"}, "opacity": {"value": 1}}}}
          }
        },
        "order": {"field": "d", "type": "quantitative"}
      }
    },
    {
      "data": {"name": "series"},
      "mark": {"type": "point", "filled": true, "size": 90, "opacity": 1, "clip": true},
      "encoding": {
        "color": {"field": "s", "type": "nominal"}
      }
    },
    {
      "data": {"name": "series"},
      "mark": {"type": "point", "filled": true, "size": 90, "opacity": 1, "clip": true,
        "fill": {"gradient": "radial", "x1": 0.35, "y1": 0.35, "r1": 0, "x2": 0.5, "y2": 0.5, "r2": 0.55,
          "stops": [{"offset": 0, "color": "rgba(255,255,255,0.85)"}, {"offset": 0.35, "color": "rgba(255,255,255,0)"}, {"offset": 0.75, "color": "rgba(0,0,0,0)"}, {"offset": 1, "color": "rgba(0,0,0,0.35)"}]}
      }
    }
  ]
}
